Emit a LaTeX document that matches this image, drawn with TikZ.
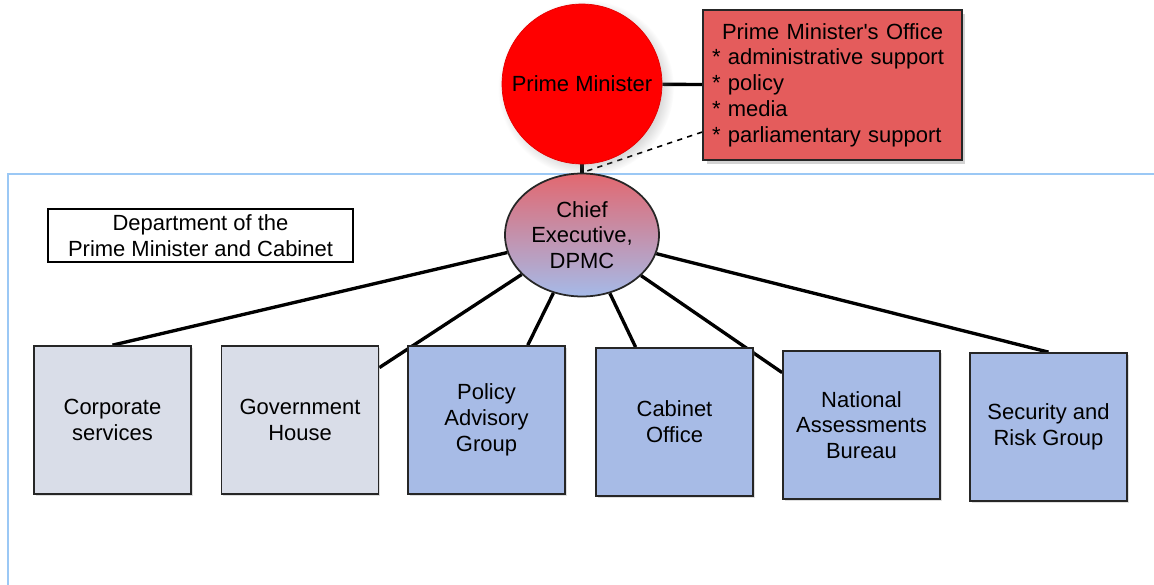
\documentclass[tikz,border=0pt]{standalone}
\usepackage{fontspec}
\setmainfont{Liberation Sans}
\usetikzlibrary{shapes,positioning,calc,shadows,backgrounds}
\definecolor{pmred}{RGB}{255,0,0}
\definecolor{officered}{RGB}{228,92,92}
\definecolor{unitgray}{RGB}{217,221,232}
\definecolor{unitblue}{RGB}{167,187,230}
\definecolor{frameblue}{RGB}{155,200,245}
\definecolor{cetop}{RGB}{226,104,112}
\definecolor{cebottom}{RGB}{165,186,232}

\begin{document}
\begin{tikzpicture}[x=0.02cm, y=-0.02cm,
    font=\fontsize{12.5}{14.7}\selectfont,
    unit/.style={rectangle, draw=black!85, line width=1pt, minimum width=3.14cm, minimum height=2.96cm, align=center, drop shadow={shadow xshift=1pt, shadow yshift=-1pt, opacity=0.25}},
    link/.style={line width=1.9pt}]
    \useasboundingbox (0,0) rectangle (1154,585);

    % Top level
    \node[circle, fill=pmred, draw=red!90!black, minimum size=3.2cm, inner sep=0pt, circular drop shadow={shadow xshift=2pt, shadow yshift=-2pt, opacity=0.3}] (pm) at (582,84) {Prime Minister};
    \node[rectangle, draw=black!85, line width=1pt, fill=officered, minimum width=5.18cm, minimum height=3cm, text width=4.82cm, inner xsep=0.18cm, align=left, drop shadow={shadow xshift=2pt, shadow yshift=-2pt, opacity=0.35}] (pmo) at (832.5,85) {{\centering Prime Minister\textquotesingle s Office\par}* administrative support\\{*} policy\\{*} media\\{*} parliamentary support};

    % Department
    \node[ellipse, draw=black!85, line width=1pt, top color=cetop, bottom color=cebottom, minimum width=3.08cm, minimum height=2.46cm, inner sep=0pt, align=center] (ce) at (582,235) {Chief\\Executive,\\DPMC};
    \node[rectangle, draw=black, line width=0.8pt, fill=white, minimum width=6.1cm, minimum height=1.06cm, inner sep=0pt, align=center] (dept) at (200.5,235.5) {Department of the\\Prime Minister and Cabinet};

    % Business units
    \node[unit, fill=unitgray] (cs) at (112.5,420) {Corporate\\services};
    \node[unit, fill=unitgray] (gh) at (300,420) {Government\\House};
    \node[unit, fill=unitblue] (pag) at (486.5,420) {Policy\\Advisory\\Group};
    \node[unit, fill=unitblue] (co) at (674.5,422) {Cabinet\\Office};
    \node[unit, fill=unitblue] (nab) at (861.5,425) {National\\Assessments\\Bureau};
    \node[unit, fill=unitblue] (srg) at (1048.5,427) {Security and\\Risk Group};

    \begin{pgfonlayer}{background}
        \draw[frameblue, line width=1.2pt] (8,600) -- (8,174) -- (1170,174);
        \draw[link] (pm) -- (pmo);
        \draw[link] (pm.south) -- (ce.north);
        \draw[dashed, line width=0.9pt] ($(pmo.north west)!0.81!(pmo.south west)$) -- (ce.north);
        \draw[link] (ce) -- (cs.north);
        \draw[link] (ce) -- ($(gh.north east)!0.15!(gh.south east)$);
        \draw[link] (ce) -- ($(pag.north west)!0.76!(pag.north east)$);
        \draw[link] (ce) -- ($(co.north west)!0.255!(co.north east)$);
        \draw[link] (ce) -- ($(nab.north west)!0.15!(nab.south west)$);
        \draw[link] (ce) -- (srg.north);
    \end{pgfonlayer}
\end{tikzpicture}
\end{document}
